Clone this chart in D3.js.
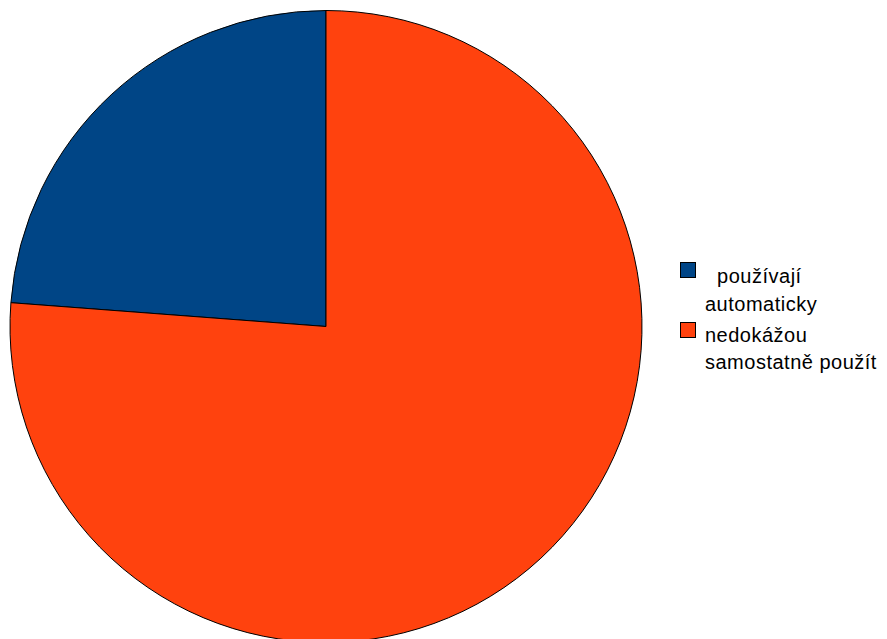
<!DOCTYPE html>
<html>
<head>
<meta charset="utf-8">
<script src="https://cdn.jsdelivr.net/npm/d3@7"></script>
<style>
  html, body { margin: 0; padding: 0; background: #fff; }
  svg { display: block; }
  text { font-family: "Liberation Sans", Arial, sans-serif; white-space: pre; }
</style>
</head>
<body>
<svg id="chart" width="887" height="639"></svg>
<script>
const categories = ["  používají automaticky", "nedokážou samostatně použít"];
const legendLines = [["  používají", "automaticky"], ["nedokážou", "samostatně použít"]];
const values = [23.8, 76.2];
const colors = ["#004586", "#ff420e"];

const svg = d3.select("#chart");
const cx = 326, cy = 326.5, r = 316;
const total = d3.sum(values);
const start = -2 * Math.PI * values[0] / total;

const pie = d3.pie().sort(null).startAngle(start).endAngle(start + 2 * Math.PI);
const arc = d3.arc().innerRadius(0).outerRadius(r);
const color = d3.scaleOrdinal().domain(categories).range(colors);

const g = svg.append("g").attr("transform", `translate(${cx},${cy})`);
g.selectAll("path")
  .data(pie(values))
  .join("path")
  .attr("d", arc)
  .attr("fill", (d, i) => color(categories[i]))
  .attr("stroke", "#000")
  .attr("stroke-width", 1)
  .attr("stroke-linejoin", "round");

const legend = svg.append("g");
const entryY = [262, 322];
const baseY = [[283, 311], [341.5, 369]];
categories.forEach((c, i) => {
  legend.append("rect")
    .attr("x", 680.5).attr("y", entryY[i] + 0.5)
    .attr("width", 15).attr("height", 15)
    .attr("fill", color(c))
    .attr("stroke", "#000").attr("stroke-width", 1);
  legendLines[i].forEach((line, j) => {
    legend.append("text")
      .attr("x", 705).attr("y", baseY[i][j])
      .attr("font-size", 20)
      .attr("letter-spacing", 0.5)
      .attr("fill", "#000")
      .text(line);
  });
});
</script>
</body>
</html>
